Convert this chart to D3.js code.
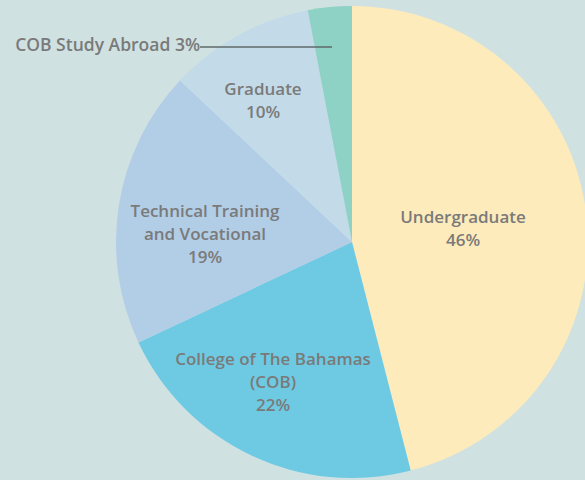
<!DOCTYPE html>
<html>
<head>
<meta charset="utf-8">
<script src="https://d3js.org/d3.v7.min.js"></script>
<style>
  body { margin: 0; background: #cfe1e1; overflow: hidden; }
  svg { display: block; }
  text {
    font-family: 'Open Sans', sans-serif;
    font-weight: 600;
    font-size: 17px;
    fill: #7a7a7a;
  }
</style>
</head>
<body>
<script>
  // slice data, clockwise from 12 o'clock
  var categories = ["Undergraduate", "College of The Bahamas (COB)", "Technical Training and Vocational", "Graduate", "COB Study Abroad"];
  var values = [46, 22, 19, 10, 3];
  var labelLines = [
    ["Undergraduate", "46%"],
    ["College of The Bahamas", "(COB)", "22%"],
    ["Technical Training", "and Vocational", "19%"],
    ["Graduate", "10%"],
    ["COB Study Abroad 3%"]
  ];

  var colors = ["#feebbb", "#6ecae2", "#b2cde6", "#c3dbe9", "#8ed1c5"];

  var width = 585, height = 480;
  var cx = 352, cy = 242, radius = 236;

  var svg = d3.select("body").append("svg")
    .attr("width", width)
    .attr("height", height);

  var g = svg.append("g").attr("transform", "translate(" + cx + "," + cy + ")");

  var pie = d3.pie().sort(null).value(function(d) { return d; });
  var arc = d3.arc().innerRadius(0).outerRadius(radius);
  var arcs = pie(values);

  g.selectAll("path.slice")
    .data(arcs)
    .enter().append("path")
    .attr("class", "slice")
    .attr("d", arc)
    .attr("fill", function(d, i) { return colors[i]; });

  // where the middle of each label block sits (relative to centre)
  var labelPos = [[111, -14], [-79, 140], [-147, -8], [-89, -142]];
  var lineH = 23;

  labelPos.forEach(function(p, i) {
    var lines = labelLines[i];
    var t = g.append("text").attr("text-anchor", "middle");
    lines.forEach(function(s, j) {
      t.append("tspan")
        .attr("x", p[0])
        .attr("y", p[1] + (j - (lines.length - 1) / 2) * lineH + 6)
        .text(s);
    });
  });

  // small slice gets an outside label with a leader line
  var ly = -195;
  g.append("line")
    .attr("x1", -152).attr("y1", ly)
    .attr("x2", -20).attr("y2", ly)
    .attr("stroke", "#5f6a6a")
    .attr("stroke-width", 1.5);
  g.append("text")
    .attr("x", -152).attr("y", ly + 4)
    .attr("text-anchor", "end")
    .style("font-size", "17.5px")
    .text(labelLines[4][0]);
</script>
</body>
</html>
